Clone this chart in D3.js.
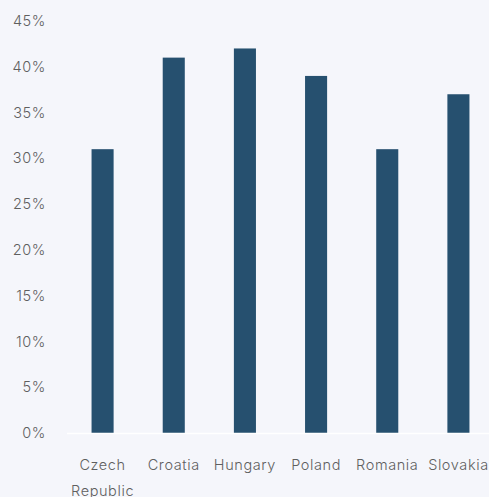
<!DOCTYPE html>
<html>
<head>
<meta charset="utf-8">
<script src="https://cdn.jsdelivr.net/npm/d3@7"></script>
<style>
    html, body { margin: 0; padding: 0; background: #f5f6fb; }
    svg { display: block; }
    text { font-family: Inter, "Noto Sans", sans-serif; font-weight: 300; letter-spacing: 0.6px; }
</style>
</head>
<body>
<div id="chart"></div>
<script>
(function () {
    "use strict";
    var countries = ["Czech Republic", "Croatia", "Hungary", "Poland", "Romania", "Slovakia"],
        shares = [31, 41, 42, 39, 31, 37],
        yTicks = [0, 5, 10, 15, 20, 25, 30, 35, 40, 45],
        dimensions = { width: 489, height: 497 },
        margin = { top: 21, right: -5, bottom: 64, left: 67 },
        svg, x, y, rows;

    svg = d3.select("#chart").append("svg")
        .attr("width", dimensions.width)
        .attr("height", dimensions.height);

    x = d3.scaleBand()
        .domain(countries)
        .range([margin.left, dimensions.width - margin.right])
        .paddingInner(0.69)
        .paddingOuter(0.345);

    y = d3.scaleLinear()
        .domain([0, 45])
        .range([dimensions.height - margin.bottom, margin.top]);

    // y axis labels, no line
    svg.append("g")
        .attr("transform", "translate(" + (margin.left - 21) + ",0)")
        .call(d3.axisLeft(y).tickValues(yTicks).tickSize(0).tickPadding(0)
            .tickFormat(function (d) { return d + "%"; }))
        .call(function (g) {
            g.select(".domain").remove();
            g.selectAll("text").style("font-size", "14.5px").attr("fill", "#5f5f5f");
        });

    // bars
    rows = countries.map(function (c, i) { return { name: c, value: shares[i] }; });
    svg.selectAll("rect.bar").data(rows).enter().append("rect")
        .attr("class", "bar")
        .attr("x", function (d) { return x(d.name); })
        .attr("width", x.bandwidth())
        .attr("y", function (d) { return y(d.value); })
        .attr("height", function (d) { return y(0) - y(d.value); })
        .attr("fill", "#26506f");

    // baseline
    svg.append("line")
        .attr("x1", margin.left).attr("x2", dimensions.width)
        .attr("y1", y(0) + 0.5).attr("y2", y(0) + 0.5)
        .attr("stroke", "#ffffff").attr("stroke-width", 1.5);

    // x labels, wrapped on the space for long names
    svg.append("g").selectAll("text").data(countries).enter().append("text")
        .attr("text-anchor", "middle")
        .style("font-size", "14.5px")
        .attr("fill", "#5f5f5f")
        .each(function (d) {
            var t = d3.select(this),
                words = d.length > 10 ? d.split(" ") : [d],
                cx = x(d) + x.bandwidth() / 2;
            words.forEach(function (w, i) {
                t.append("tspan")
                    .attr("x", cx)
                    .attr("y", y(0) + 37 + i * 26)
                    .text(w);
            });
        });
}());
</script>
</body>
</html>
